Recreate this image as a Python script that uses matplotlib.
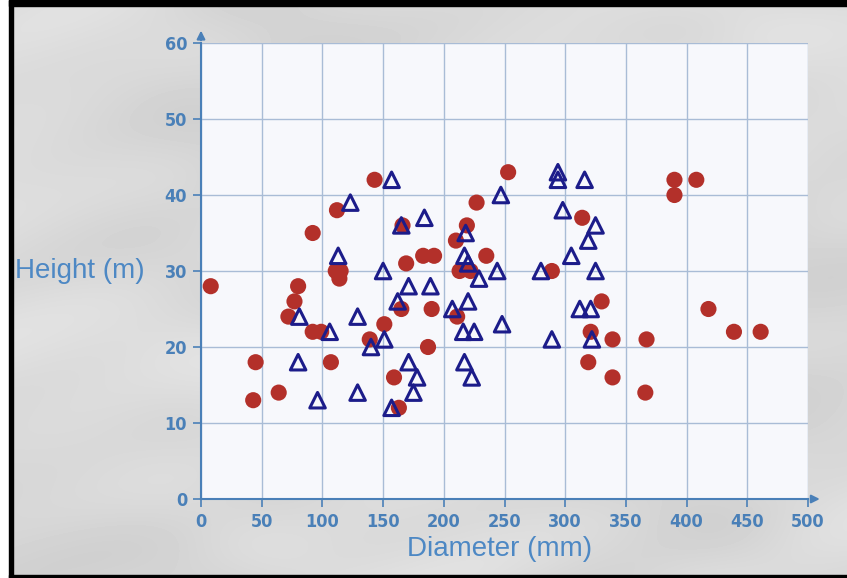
import numpy as np
import matplotlib
matplotlib.use('Agg')
import matplotlib.pyplot as plt
from matplotlib.patches import Rectangle
from matplotlib import font_manager

## data
##---------------------------

red_diam = [8, 45, 43, 64, 80, 77, 72, 92, 112, 143, 111, 114, 115, 166, 169, 165, 151, 92, 99, 107,
            139, 159, 163, 253, 227, 219, 210, 183, 192, 235, 213, 222, 289, 314, 330, 321, 339, 190,
            211, 187, 390, 408, 390, 418, 439, 461, 367, 319, 339, 366]
red_height = [28, 18, 13, 14, 28, 26, 24, 35, 38, 42, 30, 29, 30, 36, 31, 25, 23, 22, 22, 18,
              21, 16, 12, 43, 39, 36, 34, 32, 32, 32, 30, 30, 30, 37, 26, 22, 21, 25,
              24, 20, 42, 42, 40, 25, 22, 22, 21, 18, 16, 14]

blue_diam = [157, 123, 165, 113, 150, 171, 189, 162, 81, 129, 106, 80, 140, 151, 96, 129, 157, 175,
             178, 171, 184, 247, 217, 220, 229, 244, 280, 294, 294, 316, 298, 325, 319, 305, 325,
             220, 207, 216, 225, 248, 289, 312, 321, 322, 217, 223, 218]
blue_height = [42, 39, 36, 32, 30, 28, 28, 26, 24, 24, 22, 18, 20, 21, 13, 14, 12, 14,
               16, 18, 37, 40, 32, 31, 29, 30, 30, 43, 42, 42, 38, 36, 34, 32, 30,
               26, 25, 22, 22, 23, 21, 25, 25, 21, 18, 16, 35]

x_ticks = [0, 50, 100, 150, 200, 250, 300, 350, 400, 450, 500]
y_ticks = [0, 10, 20, 30, 40, 50, 60]

axis_blue = '#4a80b8'
label_blue = '#4d88c4'

# narrow bold face for the tick numbers, if one is around
names = {f.name for f in font_manager.fontManager.ttflist}
if 'Liberation Sans Narrow' in names:
    tick_font = dict(family=['Liberation Sans Narrow', 'DejaVu Sans'], weight='bold')
else:
    tick_font = dict(family=['DejaVu Sans'], weight='bold', stretch='condensed')

fig = plt.figure(figsize=(8.47, 5.78), dpi=100)
fig.patch.set_facecolor('white')

# marble-ish grey backdrop (smooth deterministic pattern)
W, H = 847, 578
yy, xx = np.mgrid[0:H, 0:W] / 100.0
tex = (0.5 * np.sin(0.9 * xx + 2.5 * np.sin(0.7 * yy + 0.3 * xx))
       + 0.3 * np.sin(4.1 * yy - 0.6 * xx + 1.5 * np.sin(1.3 * xx))
       + 0.2 * np.sin(2.3 * xx + 6.1 * yy))
tex = 0.85 + 0.035 * tex
bg = fig.add_axes([0, 0, 1, 1], zorder=-5)
bg.imshow(tex, cmap='gray', vmin=0, vmax=1, aspect='auto', extent=[0, W, H, 0])
bg.set_xlim(0, W)
bg.set_ylim(H, 0)
bg.axis('off')

# white margin + black frame on left, top and bottom
fig.patches.append(Rectangle((0, 0), 9 / W, 1, transform=fig.transFigure, color='white', zorder=10))
fig.patches.append(Rectangle((9 / W, 0), 4 / W, 1, transform=fig.transFigure, color='black', zorder=11))
fig.patches.append(Rectangle((9 / W, 1 - 6 / H), 1, 6 / H, transform=fig.transFigure, color='black', zorder=11))
fig.patches.append(Rectangle((9 / W, 0), 1, 3 / H, transform=fig.transFigure, color='black', zorder=11))

# plot area: x 0 -> px 201, 500 -> px 808 ; y 0 -> px 499, 60 -> px 43
ax = fig.add_axes([201 / W, (H - 499) / H, 607 / W, 456 / H])
ax.set_facecolor('#f7f8fc')
ax.set_xlim(0, 500)
ax.set_ylim(0, 60)
ax.set_xticks(x_ticks)
ax.set_yticks(y_ticks)
ax.grid(True, color='#a9bcd6', linewidth=1.0)
ax.set_axisbelow(True)

for side in ['top', 'right']:
    ax.spines[side].set_visible(False)
for side in ['left', 'bottom']:
    ax.spines[side].set_color(axis_blue)
    ax.spines[side].set_linewidth(1.5)

# arrow heads on the axes
ax.annotate('', xy=(512, 0), xytext=(500, 0), annotation_clip=False,
            arrowprops=dict(arrowstyle='-|>', color=axis_blue, lw=1.5, mutation_scale=12))
ax.annotate('', xy=(0, 62), xytext=(0, 60), annotation_clip=False,
            arrowprops=dict(arrowstyle='-|>', color=axis_blue, lw=1.5, mutation_scale=12))

ax.tick_params(axis='both', colors=axis_blue, length=6, width=1.2, direction='out')
ax.tick_params(axis='x', pad=4)
ax.tick_params(axis='y', pad=4)
for lab in ax.get_xticklabels() + ax.get_yticklabels():
    lab.set_fontproperties(font_manager.FontProperties(size=13, **tick_font))
    lab.set_color(axis_blue)

ax.scatter(red_diam, red_height, s=135, marker='o', color='#b3302a', edgecolors='none', zorder=3)
ax.scatter(blue_diam, blue_height, s=125, marker='^', facecolors='none', edgecolors='#1c1c8a',
           linewidths=2.2, zorder=4)

fig.text(500 / W, 1 - 549 / H, 'Diameter (mm)', ha='center', va='center',
         fontsize=20, color=label_blue, family=['Liberation Sans', 'DejaVu Sans'])
fig.text(15 / W, 1 - 271 / H, 'Height (m)', ha='left', va='center',
         fontsize=20, color=label_blue, family=['Liberation Sans', 'DejaVu Sans'])

fig.savefig('out.png', dpi=100)
